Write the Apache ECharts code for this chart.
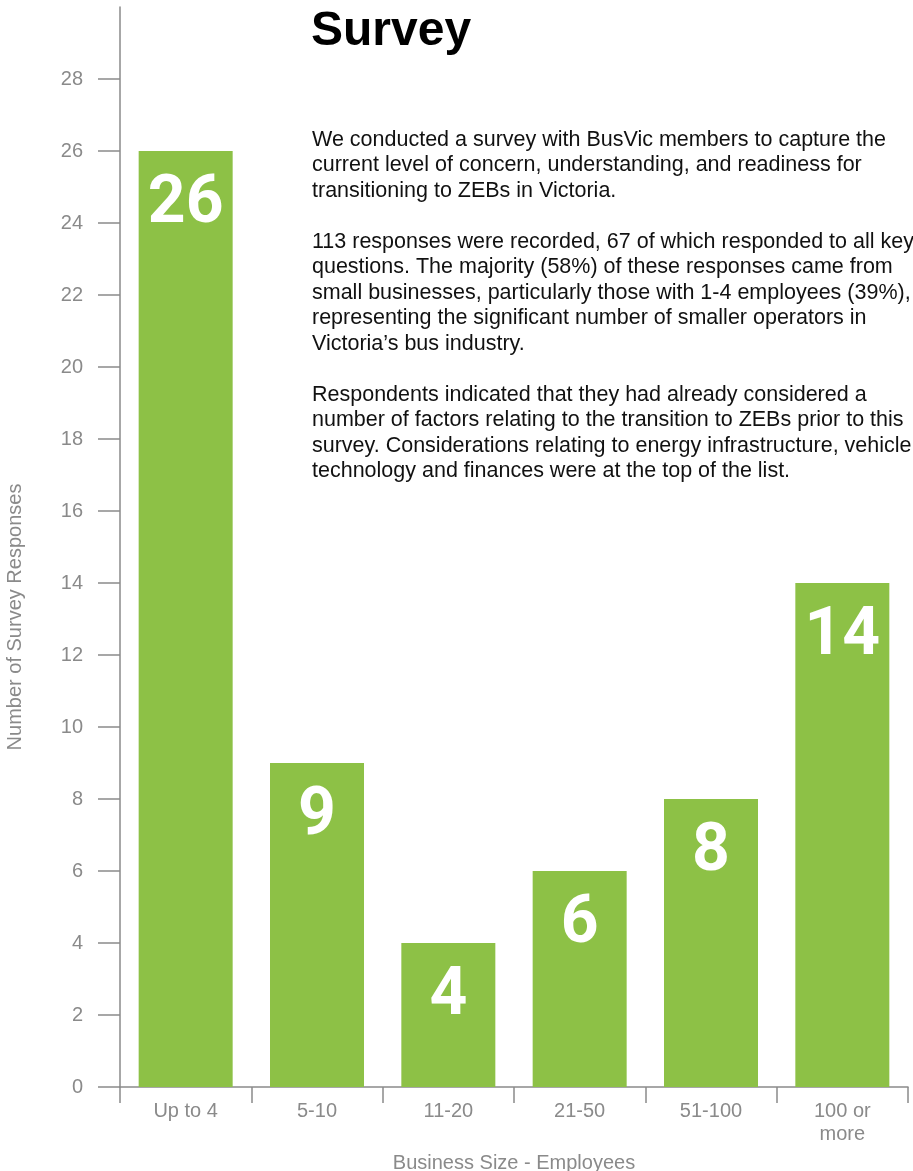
<!DOCTYPE html>
<html>
<head>
<meta charset="utf-8">
<script src="https://cdn.jsdelivr.net/npm/echarts@6/dist/echarts.min.js"></script>
<style>
  html, body { margin: 0; padding: 0; background: #fff; }
  #chart { width: 913px; height: 1171px; }
</style>
</head>
<body>
<div id="chart"></div>
<script>
// business size buckets and the number of responses in each
const categories = ['Up to 4', '5-10', '11-20', '21-50', '51-100', '100 or\nmore']
const responses = [26, 9, 4, 6, 8, 14]
const yTicks = [0, 2, 4, 6, 8, 10, 12, 14, 16, 18, 20, 22, 24, 26, 28]

const titleText = 'Survey'
const bodyText = [
  'We conducted a survey with BusVic members to capture the',
  'current level of concern, understanding, and readiness for',
  'transitioning to ZEBs in Victoria.',
  '',
  '113 responses were recorded, 67 of which responded to all key',
  'questions. The majority (58%) of these responses came from',
  'small businesses, particularly those with 1-4 employees (39%),',
  'representing the significant number of smaller operators in',
  'Victoria\u2019s bus industry.',
  '',
  'Respondents indicated that they had already considered a',
  'number of factors relating to the transition to ZEBs prior to this',
  'survey. Considerations relating to energy infrastructure, vehicle',
  'technology and finances were at the top of the list.'
].join('\n')

const grey = '#8a8a8a'
const font = '"Liberation Sans", Arial, Helvetica, sans-serif'

let chart = echarts.init(document.getElementById('chart'))
let option = {
  animation: false,
  backgroundColor: '#fff',
  title: {
    text: titleText,
    left: 306,
    top: 3,
    textStyle: { fontFamily: font, fontSize: 48, fontWeight: 'bold', color: '#000' }
  },
  graphic: [
    {
      type: 'text',
      left: 312,
      top: 127,
      style: { text: bodyText, fontFamily: font, fontSize: 21.5, lineHeight: 25.5, fill: '#111' }
    },
    {
      type: 'text',
      x: 5,
      y: 617,
      rotation: Math.PI / 2,
      style: {
        text: 'Number of Survey Responses',
        fontFamily: font, fontSize: 20, fill: grey,
        align: 'center', verticalAlign: 'top'
      }
    }
  ],
  grid: { left: 120, right: 5, top: 7, bottom: 84, outerBoundsMode: 'none', containLabel: false },
  xAxis: {
    type: 'category',
    data: categories,
    name: 'Business Size - Employees',
    nameLocation: 'middle',
    nameGap: 66,
    nameTextStyle: { fontFamily: font, fontSize: 20, color: grey },
    axisLine: { lineStyle: { color: grey, width: 1.5 } },
    axisTick: { show: true, length: 16, alignWithLabel: false, lineStyle: { color: grey, width: 1.5 } },
    axisLabel: { fontFamily: font, fontSize: 20, color: grey, margin: 13, lineHeight: 23 }
  },
  yAxis: {
    type: 'value',
    min: 0,
    max: 30,
    interval: 2,
    splitLine: { show: false },
    axisLine: { show: true, lineStyle: { color: grey, width: 1.5 } },
    axisTick: { show: true, length: 22, customValues: yTicks, lineStyle: { color: grey, width: 1.5 } },
    axisLabel: { fontFamily: font, fontSize: 20, color: grey, margin: 37, customValues: yTicks }
  },
  series: [
    {
      type: 'bar',
      data: responses,
      barWidth: 94,
      itemStyle: { color: '#8dc146' },
      label: {
        show: true,
        position: 'insideTop',
        distance: 21,
        color: '#fff',
        fontFamily: 'Roboto, sans-serif',
        fontWeight: 'bold',
        fontSize: 66
      }
    }
  ]
}
chart.setOption(option)
</script>
</body>
</html>
